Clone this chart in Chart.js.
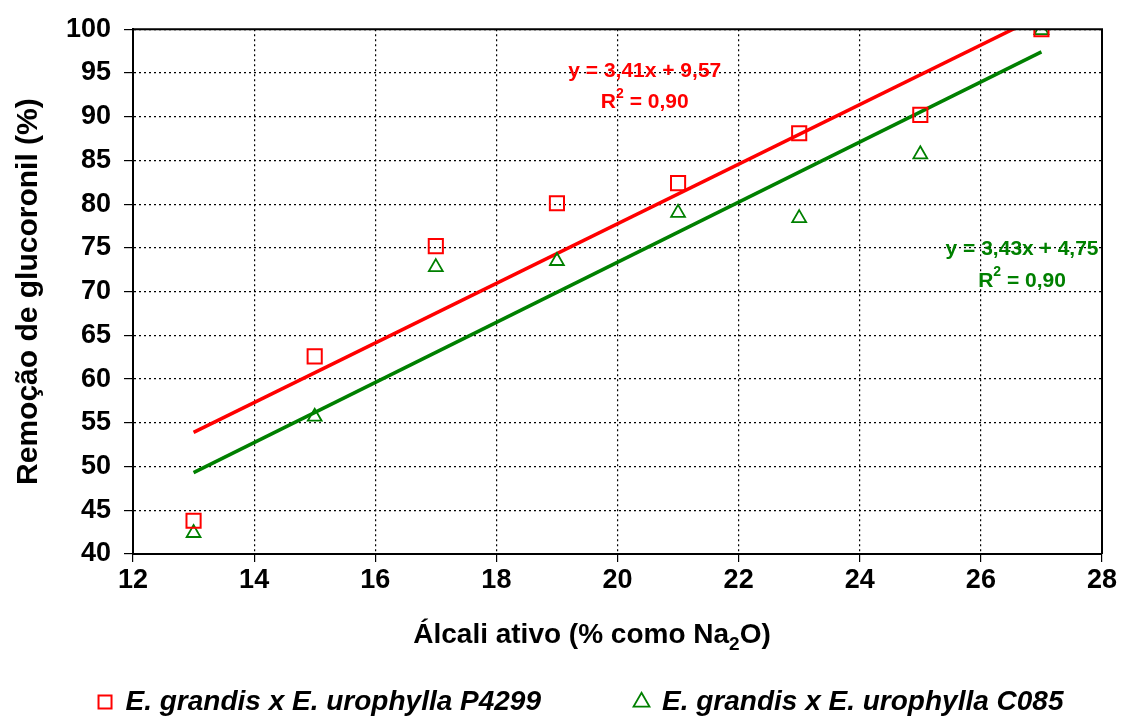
<!DOCTYPE html>
<html>
<head>
<meta charset="utf-8">
<script src="https://cdn.jsdelivr.net/npm/chart.js@4"></script>
<style>
  html, body { margin: 0; padding: 0; background: #fff; }
  #wrap { width: 1122px; height: 718px; position: relative; }
</style>
</head>
<body>
<div id="wrap"><canvas id="c"></canvas></div>
<script>
// álcali ativo (% como Na2O)
const alcali = [13, 15, 17, 19, 21, 23, 25, 27];
// remoção de glucoronil (%)
const remP4299 = [43.8, 62.6, 75.2, 80.1, 82.4, 88.1, 90.2, 100];
const remC085 = [42.4, 55.7, 72.8, 73.5, 79.0, 78.4, 85.7, 99.9];
// linhas de tendência (extremos)
const trendX = [13, 27];
const trendP4299 = [53.9, 101.6];
const trendC085 = [49.3, 97.4];

const labelP4299 = 'E. grandis x E. urophylla P4299';
const labelC085 = 'E. grandis x E. urophylla C085';
const eqP4299 = ['y = 3,41x + 9,57', '0,90'];
const eqC085 = ['y = 3,43x + 4,75', '0,90'];

const RED = '#ff0000';
const GREEN = '#008000';
const FONT = 'Liberation Sans, Arial, sans-serif';

const toPts = (xs, ys) => xs.map((x, i) => ({ x: x, y: ys[i] }));

// texto extra: título do eixo x com subscrito, equações, moldura
const extras = {
    id: 'extras',
    afterLayout(chart) {
        // desloca a legenda como no original
        const lg = chart.legend;
        lg.left += 65; lg.right += 65;
        lg.top += 8; lg.bottom += 8;
    },
    afterDraw(chart) {
        const ctx = chart.ctx;
        const a = chart.chartArea;
        const sx = chart.scales.x, sy = chart.scales.y;
        ctx.save();
        // moldura superior e direita
        ctx.strokeStyle = '#000';
        ctx.lineWidth = 2;
        ctx.beginPath();
        ctx.moveTo(a.left, a.top); ctx.lineTo(a.right, a.top); ctx.lineTo(a.right, a.bottom);
        ctx.stroke();

        // título do eixo x
        ctx.fillStyle = '#000';
        ctx.textBaseline = 'alphabetic';
        const big = 'bold 28px ' + FONT, small = 'bold 19px ' + FONT;
        const p1 = 'Álcali ativo (% como Na', p2 = '2', p3 = 'O)';
        ctx.font = big; const w1 = ctx.measureText(p1).width, w3 = ctx.measureText(p3).width;
        ctx.font = small; const w2 = ctx.measureText(p2).width;
        let x = 592 - (w1 + w2 + w3) / 2;
        const yb = 643;
        ctx.font = big; ctx.fillText(p1, x, yb); x += w1;
        ctx.font = small; ctx.fillText(p2, x, yb + 7); x += w2;
        ctx.font = big; ctx.fillText(p3, x, yb);

        // equações
        function eq(lines, color, cx, cy1, cy2) {
            ctx.fillStyle = color;
            ctx.textAlign = 'center';
            ctx.textBaseline = 'middle';
            ctx.font = 'bold 21px ' + FONT;
            ctx.fillText(lines[0], cx, cy1);
            const r = 'R', rest = ' = ' + lines[1];
            const wr = ctx.measureText(r).width, wrest = ctx.measureText(rest).width;
            ctx.font = 'bold 14px ' + FONT;
            const ws = ctx.measureText('2').width;
            let x0 = cx - (wr + ws + wrest) / 2;
            ctx.textAlign = 'left';
            ctx.font = 'bold 21px ' + FONT; ctx.fillText(r, x0, cy2); x0 += wr;
            ctx.font = 'bold 14px ' + FONT; ctx.fillText('2', x0, cy2 - 9); x0 += ws;
            ctx.font = 'bold 21px ' + FONT; ctx.fillText(rest, x0, cy2);
        }
        eq(eqP4299, RED, sx.getPixelForValue(20.45), sy.getPixelForValue(95.2), sy.getPixelForValue(91.6));
        eq(eqC085, GREEN, sx.getPixelForValue(26.68), sy.getPixelForValue(74.9), sy.getPixelForValue(71.2));
        ctx.restore();
    }
};

// espaços no fim dos rótulos para espaçar a legenda como no original
const legendGap = ['\u2003\u2003\u2003', '\u2003\u2003\u2002'];

new Chart(document.getElementById('c'), {
    type: 'scatter',
    data: {
        datasets: [{
            label: labelP4299,
            data: toPts(alcali, remP4299),
            pointStyle: 'rect',
            pointRadius: 10,
            pointHoverRadius: 10,
            borderColor: RED,
            backgroundColor: 'rgba(0,0,0,0)',
            borderWidth: 2
        }, {
            label: labelC085,
            data: toPts(alcali, remC085),
            pointStyle: 'triangle',
            pointRadius: 8,
            pointHoverRadius: 8,
            borderColor: GREEN,
            backgroundColor: 'rgba(0,0,0,0)',
            borderWidth: 1.8
        }, {
            label: 'trend1',
            type: 'line',
            data: toPts(trendX, trendP4299),
            borderColor: RED,
            borderWidth: 3.5,
            pointRadius: 0,
            fill: false
        }, {
            label: 'trend2',
            type: 'line',
            data: toPts(trendX, trendC085),
            borderColor: GREEN,
            borderWidth: 3.5,
            pointRadius: 0,
            fill: false
        }]
    },
    options: {
        responsive: true,
        maintainAspectRatio: false,
        animation: false,
        layout: { padding: { top: 28, right: 20, left: 0, bottom: 0 } },
        scales: {
            x: {
                type: 'linear', min: 12, max: 28,
                ticks: { stepSize: 2, color: '#000', font: { family: FONT, size: 27, weight: 'bold' }, padding: 2 },
                grid: { color: '#000', lineWidth: 1.2, tickLength: 8, tickColor: '#000', tickBorderDash: [] },
                border: { color: '#000', width: 2, dash: [2, 3] },
                afterFit(s) { s.height = 116; }
            },
            y: {
                min: 40, max: 100,
                ticks: { stepSize: 5, color: '#000', font: { family: FONT, size: 27, weight: 'bold' }, padding: 13 },
                grid: { color: '#000', lineWidth: 1.2, tickLength: 9, tickColor: '#000', tickBorderDash: [] },
                border: { color: '#000', width: 2, dash: [2, 3] },
                title: { display: true, text: 'Remoção de glucoronil (%)', color: '#000', font: { family: FONT, size: 30, weight: 'bold' }, padding: { top: 11, bottom: 0 } },
                afterFit(s) { s.width = 133; }
            }
        },
        plugins: {
            legend: {
                position: 'bottom',
                labels: {
                    filter: item => item.datasetIndex < 2,
                    generateLabels(chart) {
                        const items = Chart.defaults.plugins.legend.labels.generateLabels(chart);
                        items.forEach((it, i) => { if (i < 2) it.text = it.text + legendGap[i]; });
                        return items;
                    },
                    usePointStyle: true,
                    boxWidth: 13,
                    boxHeight: 13,
                    padding: 10,
                    color: '#000',
                    font: { family: FONT, size: 28, weight: 'bold', style: 'italic' }
                }
            },
            tooltip: { enabled: false }
        }
    },
    plugins: [extras]
});
</script>
</body>
</html>
